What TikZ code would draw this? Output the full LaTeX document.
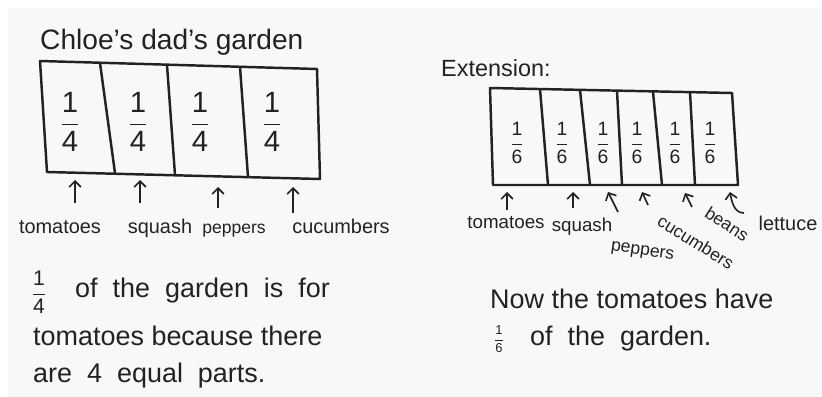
\documentclass[tikz,border=0pt]{standalone}
\usepackage{fontspec}
\setmainfont{Liberation Sans}
\usetikzlibrary{arrows.meta}

\newcommand{\gardenfrac}[2]{$\displaystyle\frac{\mbox{#1}}{\mbox{#2}}$}

\begin{document}
\begin{tikzpicture}[x=0.03cm, y=-0.03cm,
    pen/.style={line width=2.1pt, draw=inkColour, line join=round},
    arr/.style={line width=1.4pt, draw=inkColour, -{Straight Barb[length=5pt,width=10pt]}},
    hand/.style={font=\fontsize{23}{28}\selectfont, anchor=base west, inner sep=0pt, text=inkColour},
    crop/.style={font=\fontsize{#1}{20}\selectfont, anchor=base, inner sep=0pt, text=inkColour},
    cell/.style={font=\fontsize{#1}{30}\selectfont, inner sep=0pt, text=inkColour}]
    \definecolor{inkColour}{HTML}{222222}
    \definecolor{paperColour}{HTML}{F8F8F8}

    % Paper
    \useasboundingbox (0,0) rectangle (822,397);
    \fill[paperColour] (8,8) rectangle (822,397);

    % Left garden: four quarters
    \node[hand, font=\fontsize{24}{28}\selectfont] (title) at (40,50) {Chloe's dad's garden};
    \coordinate (LA) at (40,61);
    \coordinate (LB) at (317,69);
    \coordinate (LC) at (320,179);
    \coordinate (LD) at (47,172);
    \draw[pen] (LA) -- (LB) -- (LC) -- (LD) -- cycle;
    \foreach \xt/\yt/\xb/\yb in {100/63/115/173, 167/65/175/175, 240/67/248/177}
        \draw[pen] (\xt,\yt) -- (\xb,\yb);
    \foreach \x [count=\i] in {70,138,200,272}
        \node[cell=25] (q\i) at (\x,122) {\gardenfrac{1}{4}};

    % Left labels and arrows
    \node[crop=17] (tomL) at (60,233) {tomatoes};
    \node[crop=17] (squL) at (160,233) {squash};
    \node[crop=15] (pepL) at (234,233) {peppers};
    \node[crop=17] (cucL) at (341,233) {cucumbers};
    \foreach \n/\xa/\ya/\xb/\yb in {1/75/203/75/180, 2/140/203/140/180, 3/218/208/218/187, 4/293/213/293/187} {
        \coordinate (tailL\n) at (\xa,\ya);
        \coordinate (tipL\n) at (\xb,\yb);
        \draw[arr] (tailL\n) -- (tipL\n);
    }

    % Left sentence
    \node[cell=18] (fracL) at (39,292) {\gardenfrac{1}{4}};
    \node[hand] (lineL1) at (75,297) {of\ \ the\ \ garden\ \ is\ \ for};
    \node[hand] (lineL2) at (33,345) {tomatoes\ because\ there};
    \node[hand] (lineL3) at (33,382) {are\ \ 4\ \ equal\ \ parts.};

    % Right garden: six sixths
    \node[hand, font=\fontsize{20}{24}\selectfont] (ext) at (441,77) {Extension:};
    \coordinate (RA) at (490,88);
    \coordinate (RB) at (732,93);
    \coordinate (RC) at (738,185);
    \coordinate (RD) at (493,185);
    \draw[pen] (RA) -- (RB) -- (RC) -- (RD) -- cycle;
    \foreach \xt/\yt/\xb in {540/89/548, 580/90/590, 617/91/622, 653/92/662, 690/92/695}
        \draw[pen] (\xt,\yt) -- (\xb,185);
    \foreach \x [count=\i] in {517,562,603,637,675,710}
        \node[cell=16.5] (s\i) at (\x,143) {\gardenfrac{1}{6}};

    % Right labels and arrows
    \node[crop=16] (tomR) at (506,228) {tomatoes};
    \node[crop=16] (squR) at (582,231) {squash};
    \node[crop=15, rotate=-8] (pepR) at (642,255) {peppers};
    \node[crop=15, rotate=-32, anchor=center] (cucR) at (696,242) {cucumbers};
    \node[crop=15, rotate=-33, anchor=center] (beaR) at (727,224) {beans};
    \node[crop=17] (letR) at (788,230) {lettuce};
    \foreach \n/\xa/\ya/\xb/\yb in {1/507/210/507/192, 2/573/208/573/192, 3/618/212/608/192, 4/648/205/642/192, 5/692/207/685/193} {
        \coordinate (tailR\n) at (\xa,\ya);
        \coordinate (tipR\n) at (\xb,\yb);
        \draw[arr] (tailR\n) -- (tipR\n);
    }
    \coordinate (tailR6) at (744,213);
    \coordinate (tipR6) at (730,192);
    \draw[arr] (tailR6) to[out=180, in=-80] (tipR6);

    % Right sentence
    \node[hand] (lineR1) at (490,308) {Now\ the\ tomatoes\ have};
    \node[cell=11] (fracR) at (499,339) {\gardenfrac{1}{6}};
    \node[hand] (lineR2) at (530,345) {of\ \ the\ \ garden.};

\end{tikzpicture}
\end{document}
